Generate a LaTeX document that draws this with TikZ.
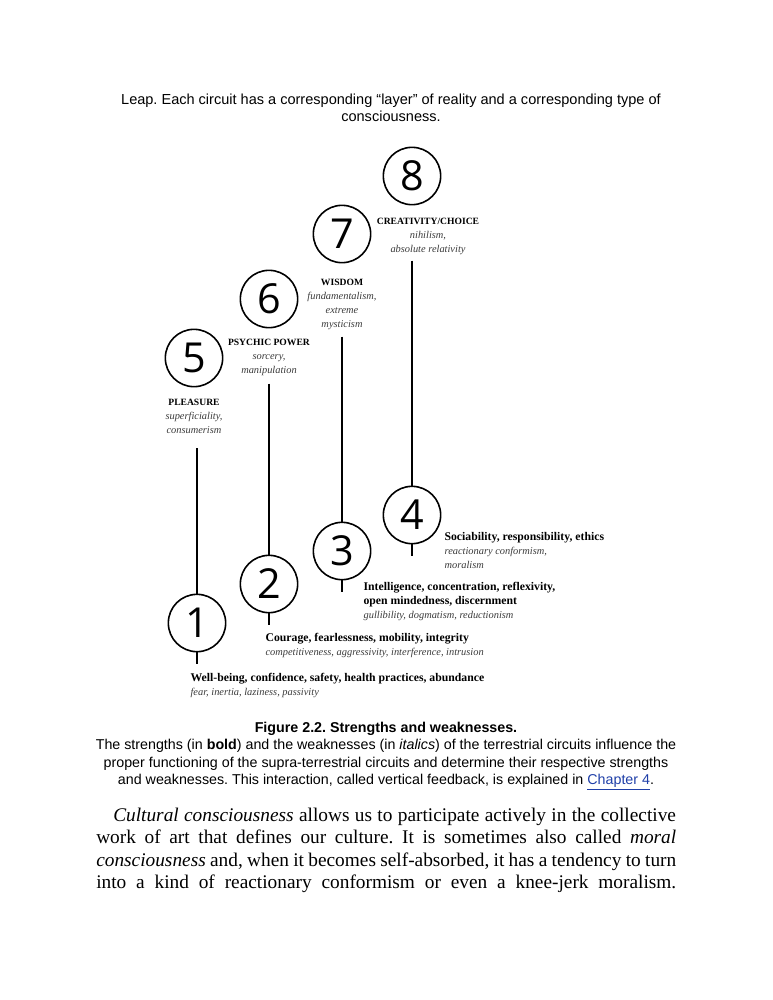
\documentclass[tikz,border=0pt]{standalone}
\usepackage{fontspec}
\setmainfont{Liberation Serif}
\newfontfamily\arialfont{Liberation Sans}
\newfontfamily\numfont{Open Sans}
\usetikzlibrary{positioning}
\definecolor{linkblue}{HTML}{1F3FA8}
\definecolor{weakgray}{HTML}{3A3A3A}
\frenchspacing
\newcommand{\headcaps}[1]{{\fontsize{7.2}{10.5}\selectfont\textbf{#1}}}
\newcommand{\weakness}[1]{{\fontsize{7.8}{10.5}\selectfont\color{weakgray}\textit{#1}}}

\begin{document}
\begin{tikzpicture}[
        x=0.75pt, y=-0.75pt,
        node distance=6pt and 4pt,
        circuit/.style={draw, circle, line width=1.2pt, minimum size=43pt, inner sep=0pt, font=\numfont\fontsize{31}{31}\selectfont},
        upper/.style={align=center, inner sep=1pt, font=\fontsize{8.8}{10.5}\selectfont},
        lower/.style={align=left, anchor=north west, inner sep=1pt, font=\fontsize{8.8}{10.5}\selectfont},
        wire/.style={line width=1.1pt},
        pagetext/.style={align=center, inner sep=0pt, font=\arialfont\fontsize{10.9}{12.8}\selectfont},
        captext/.style={align=center, inner sep=0pt, font=\arialfont\fontsize{10.7}{12.9}\selectfont},
        bodyline/.style={anchor=base west, inner sep=0pt, font=\fontsize{14.5}{17}\selectfont}
    ]
    \useasboundingbox (0,0) rectangle (772,1000);

    \node[pagetext] (intro) at (391,108) {Leap. Each circuit has a corresponding “layer” of reality and a corresponding type of\\consciousness.};

    % circuits
    \node[circuit] (c8) at (412,176) {8};
    \node[circuit] (c7) at (342,234) {7};
    \node[circuit] (c6) at (269,299) {6};
    \node[circuit] (c5) at (194,358) {5};
    \node[circuit] (c4) at (412,515) {4};
    \node[circuit] (c3) at (342,551) {3};
    \node[circuit] (c2) at (269,584) {2};
    \node[circuit] (c1) at (197,623) {1};

    % supra-terrestrial labels
    \node[upper, below=8.5pt of c8, xshift=12pt] (l8) {\headcaps{CREATIVITY/CHOICE}\\\weakness{nihilism,}\\\weakness{absolute relativity}};
    \node[upper, below=10.5pt of c7] (l7) {\headcaps{WISDOM}\\\weakness{fundamentalism,}\\\weakness{extreme}\\\weakness{mysticism}};
    \node[upper, below=6.5pt of c6] (l6) {\headcaps{PSYCHIC POWER}\\\weakness{sorcery,}\\\weakness{manipulation}};
    \node[upper, below=7.5pt of c5] (l5) {\headcaps{PLEASURE}\\\weakness{superficiality,}\\\weakness{consumerism}};

    % terrestrial labels
    \node[lower] (l4) at (443,531) {\textbf{Sociability, responsibility, ethics}\\\weakness{reactionary conformism,}\\\weakness{moralism}};
    \node[lower] (l3) at (362,581) {\textbf{Intelligence, concentration, reflexivity,}\\\textbf{open mindedness, discernment}\\\weakness{gullibility, dogmatism, reductionism}};
    \node[lower] (l2) at (264,632) {\textbf{Courage, fearlessness, mobility, integrity}\\\weakness{competitiveness, aggressivity, interference, intrusion}};
    \node[lower] (l1) at (189,672) {\textbf{Well-being, confidence, safety, health practices, abundance}\\\weakness{fear, inertia, laziness, passivity}};

    % vertical feedback lines
    \draw[wire, shorten <=3pt] (c4.north |- l8.south) -- (c4.north);
    \draw[wire, shorten <=4pt] (c3.north |- l7.south) -- (c3.north);
    \draw[wire, shorten <=5pt] (c2.north |- l6.south) -- (c2.north);
    \draw[wire, shorten <=10pt] (c1.north |- l5.south) -- (c1.north);

    \coordinate (s4) at ([yshift=-9pt]c4.south);
    \coordinate (s3) at ([yshift=-9pt]c3.south);
    \coordinate (s2) at ([yshift=-9pt]c2.south);
    \coordinate (s1) at ([yshift=-9pt]c1.south);
    \draw[wire] (c4.south) -- (s4);
    \draw[wire] (c3.south) -- (s3);
    \draw[wire] (c2.south) -- (s2);
    \draw[wire] (c1.south) -- (s1);

    \node[captext, anchor=north] (caption) at (386,722) {\textbf{Figure 2.2. Strengths and weaknesses.}\\The strengths (in \textbf{bold}) and the weaknesses (in \textit{italics}) of the terrestrial circuits influence the\\proper functioning of the supra-terrestrial circuits and determine their respective strengths\\and weaknesses. This interaction, called vertical feedback, is explained in \textcolor{linkblue}{\underline{Chapter 4}}.};

    % body text
    \node[bodyline] (b1) at (113,821) {\makebox[422pt][s]{\textit{Cultural consciousness} allows us to participate actively in the collective}};
    \node[bodyline] (b2) at (96,843) {\makebox[435pt][s]{work of art that defines our culture. It is sometimes also called \textit{moral}}};
    \node[bodyline] (b3) at (96,866) {\makebox[435pt][s]{\textit{consciousness} and, when it becomes self-absorbed, it has a tendency to turn}};
    \node[bodyline] (b4) at (96,888) {\makebox[435pt][s]{into a kind of reactionary conformism or even a knee-jerk moralism.}};
\end{tikzpicture}
\end{document}
